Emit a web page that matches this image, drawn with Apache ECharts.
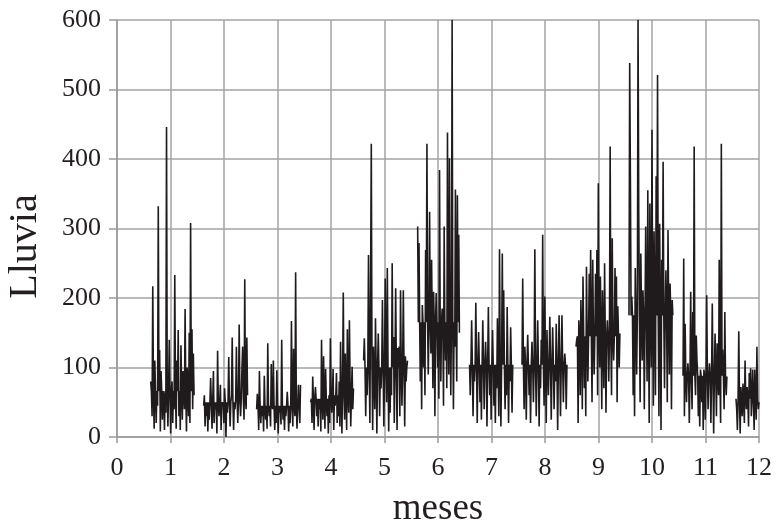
<!DOCTYPE html>
<html>
<head>
<meta charset="utf-8">
<script src="https://cdn.jsdelivr.net/npm/echarts@6/dist/echarts.min.js"></script>
<style>html,body{margin:0;padding:0;background:#fff}#c{width:777px;height:524px}</style>
</head>
<body>
<div id="c"></div>
<script>
// Start and end (in months) of each monthly block of readings
const blockStart = [0.63,1.62,2.61,3.62,4.61,5.62,6.59,7.57,8.58,9.57,10.58,11.57];
const blockEnd   = [1.44,2.44,3.43,4.42,5.43,6.40,7.41,8.41,9.40,10.39,11.40,12.0];

const m1 = [80,66,30,217,66,12,110,66,20,66,45,332,66,125,8,95,66,25,66,60,10,66,35,446,66,15,66,140,66,5,66,80,20,66,40,233,66,12,110,66,154,30,66,10,132,66,25,95,66,40,184,66,8,100,66,30,150,20,308,66,155,40,120,60];
const m2 = [45,60,15,50,30,50,8,50,25,50,85,50,12,50,95,20,50,40,50,5,124,50,30,50,75,10,50,45,50,20,70,50,0,50,35,50,115,50,15,50,60,143,50,10,50,40,55,130,55,20,55,162,55,30,55,100,130,55,25,227,55,40,143,60];
const m3 = [40,62,45,10,95,45,20,45,30,45,8,88,45,25,45,12,135,45,30,45,15,105,45,40,110,45,10,45,20,96,45,5,45,35,45,18,140,45,25,45,10,45,30,45,65,45,8,45,20,45,167,45,15,127,45,30,237,45,12,45,75,45,20,75];
const m4 = [50,55,20,87,55,10,55,72,55,30,55,15,55,40,55,8,140,55,25,116,55,12,98,55,30,55,5,60,20,142,60,35,60,98,10,60,45,60,92,20,60,30,80,15,137,60,5,80,208,60,25,120,60,10,155,60,35,168,80,15,60,101,40,70];
const m5 = [110,142,100,30,100,60,100,262,100,20,221,422,100,10,130,100,40,171,100,5,100,149,100,30,100,70,100,197,100,15,100,228,100,50,243,100,8,100,35,100,60,250,100,144,20,100,214,100,10,128,100,130,30,211,100,45,100,211,100,15,116,80,100,110];
const m6 = [303,165,279,165,80,165,40,190,165,100,165,60,269,165,422,165,90,165,324,165,120,255,165,70,209,165,30,165,207,165,100,165,55,384,165,80,165,185,165,45,303,165,110,165,70,438,165,90,401,165,60,165,600,165,40,165,130,356,165,80,348,165,291,150];
const m7 = [104,60,104,168,104,30,104,80,104,193,104,20,104,151,104,50,104,25,104,168,104,40,104,137,104,15,104,187,104,60,104,25,104,154,104,45,104,20,104,70,171,104,30,270,104,15,104,264,104,211,104,40,104,60,187,104,20,104,80,158,104,35,104,104];
const m8 = [104,228,104,40,130,104,25,104,147,104,60,104,20,104,137,104,50,104,270,104,30,104,168,104,15,104,70,140,104,291,104,45,202,104,20,154,104,60,104,173,104,25,104,158,104,40,104,80,163,104,10,104,175,104,30,104,175,104,50,104,120,104,40,104];
const m9 = [130,140,145,20,168,145,60,197,145,40,231,145,70,145,30,245,145,80,145,235,145,269,145,50,255,145,90,145,235,145,269,60,365,145,100,231,145,40,211,145,70,250,145,35,145,168,145,80,145,418,145,60,286,145,110,145,243,145,231,50,188,145,100,149];
const m10 = [175,538,375,175,202,175,60,175,30,243,175,90,175,600,324,175,50,264,175,110,211,175,40,175,303,175,80,355,175,20,336,175,100,442,175,45,296,175,60,375,175,521,175,30,307,175,10,255,175,396,175,70,175,240,175,50,298,175,90,221,175,40,197,175];
const m11 = [88,257,30,163,88,50,88,106,88,20,88,209,88,40,180,88,418,88,60,146,111,88,30,88,15,97,88,50,88,10,97,88,25,88,204,88,40,88,106,88,20,88,192,88,5,88,149,88,30,135,88,60,255,88,20,422,88,126,88,40,180,88,60,87];
const m12 = [55,40,10,55,152,55,5,72,55,30,77,55,20,110,55,40,72,55,15,92,55,99,30,55,97,55,10,97,55,25,130,55,40,50];

const months = [m1,m2,m3,m4,m5,m6,m7,m8,m9,m10,m11,m12];
const xTicks = [0,1,2,3,4,5,6,7,8,9,10,11,12];
const yTicks = [0,100,200,300,400,500,600];

const series = months.map((vals, k) => ({
  type: 'line',
  showSymbol: false,
  symbol: 'none',
  lineStyle: { color: '#1f1b1c', width: 1.6 },
  data: vals.map((v, i) => [blockStart[k] + (blockEnd[k] - blockStart[k]) * i / (vals.length - 1), v]),
  silent: true
}));

const serif = 'Liberation Serif';
const chart = echarts.init(document.getElementById('c'), null, { renderer: 'canvas' });
chart.setOption({
  animation: false,
  backgroundColor: '#ffffff',
  grid: { left: 117, right: 18, top: 20, bottom: 87, containLabel: false, outerBoundsMode: 'none' },
  xAxis: {
    type: 'value', min: xTicks[0], max: xTicks[xTicks.length - 1], interval: 1,
    name: 'meses', nameLocation: 'middle', nameGap: 54,
    nameTextStyle: { fontFamily: serif, fontSize: 37, color: '#231f20' },
    axisLine: { show: true, lineStyle: { color: '#9a9a9a', width: 1.5 } },
    axisTick: { show: true, length: 6, lineStyle: { color: '#9a9a9a', width: 1.5 } },
    axisLabel: { fontFamily: serif, fontSize: 26, color: '#231f20', margin: 18 },
    splitLine: { show: true, lineStyle: { color: '#a3a3a3', width: 1.5 } }
  },
  yAxis: {
    type: 'value', min: yTicks[0], max: yTicks[yTicks.length - 1], interval: 100,
    name: 'Lluvia', nameLocation: 'middle', nameGap: 72, nameRotate: 90,
    nameTextStyle: { fontFamily: serif, fontSize: 40, color: '#231f20', padding: [0, 36, 0, 0] },
    axisLine: { show: true, lineStyle: { color: '#9a9a9a', width: 1.5 } },
    axisTick: { show: true, length: 8, lineStyle: { color: '#9a9a9a', width: 1.5 } },
    axisLabel: { fontFamily: serif, fontSize: 26, color: '#231f20', margin: 16 },
    splitLine: { show: true, lineStyle: { color: '#a3a3a3', width: 1.5 } }
  },
  series: series
});
</script>
</body>
</html>
